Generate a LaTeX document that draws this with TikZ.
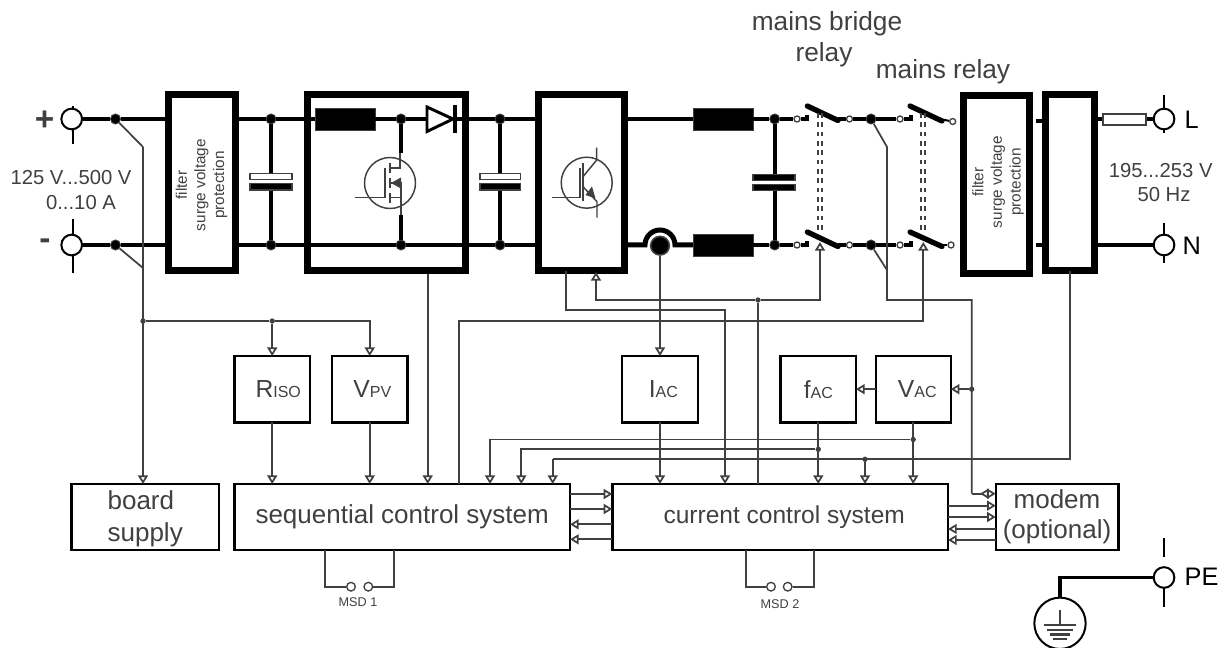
\documentclass[tikz,border=0pt]{standalone}
\usepackage{fontspec}
\setmainfont{Liberation Sans}
\usetikzlibrary{arrows.meta}
\definecolor{sigcol}{HTML}{404040}
\newcommand{\lowtxt}[1]{{\fontsize{12}{12}\selectfont #1}}
\tikzset{
  wire/.style={line width=3pt, black},
  sig/.style={line width=1.3pt, sigcol},
  symb/.style={line width=1.1pt, sigcol},
  tick/.style={line width=1.9pt, black},
  blade/.style={line width=4pt, black, line cap=round},
  gang/.style={line width=1.5pt, sigcol, dash pattern=on 3.5pt off 3.5pt},
  plate/.style={line width=0.9pt, draw=sigcol},
  sized/.style 2 args={minimum width=#1*0.75pt, minimum height=#2*0.75pt},
  fatbox/.style={draw=black, line width=5.25pt, inner sep=0pt, outer sep=0pt},
  ctrlbox/.style={draw=black, line width=1.8pt, inner sep=0pt, outer sep=0pt, text=sigcol, align=center, font=\fontsize{19.5}{24}\selectfont},
  choke/.style={fill=black, draw=sigcol, line width=0.5pt, inner sep=0pt, outer sep=0pt, minimum width=45pt, minimum height=16.5pt},
  term/.style={circle, draw=black, fill=white, line width=1.5pt, inner sep=0pt, minimum size=15.5pt},
  bigdot/.style={circle, fill=black, draw=sigcol, line width=0.7pt, inner sep=0pt, minimum size=7.5pt},
  smalldot/.style={circle, fill=sigcol, inner sep=0pt, minimum size=4pt},
  contact/.style={circle, fill=white, draw=sigcol, line width=1pt, inner sep=0pt, minimum size=4.5pt},
  msdpin/.style={circle, fill=white, draw=sigcol, line width=1pt, inner sep=0pt, minimum size=6.5pt},
  grey/.style={text=sigcol, align=center, font=\fontsize{15.2}{18.5}\selectfont},
  head/.style={text=sigcol, font=\fontsize{19.7}{24}\selectfont},
  fltxt/.style={text=sigcol, align=center, rotate=90, font=\fontsize{11.5}{14}\selectfont},
  big/.style={font=\fontsize{19}{22}\selectfont, text=black},
  >={Triangle[fill=white, length=6.5pt, width=7.5pt]}
}
\begin{document}
\begin{tikzpicture}[x=0.75pt, y=-0.75pt]
  \useasboundingbox (0,0) rectangle (1226,648);
  \def\ytop{119}
  \def\ybot{245}
  % power blocks
  \node[fatbox, sized={67}{176.5}] (flt1) at (201.5,182.3) {};
  \node[fatbox, sized={158}{176.5}] (boost) at (386,182.3) {};
  \node[fatbox, sized={86}{176.5}] (inv) at (581.5,182.3) {};
  \node[fatbox, sized={66.5}{177.5}] (flt2) at (996.7,184.7) {};
  \node[fatbox, sized={49}{176.5}] (grid) at (1070.3,182.3) {};
  \node[fltxt] at (201.5,185) {filter\\surge voltage\\protection};
  \node[fltxt] at (998,182) {filter\\surge voltage\\protection};
  % control blocks
  \node[ctrlbox, sized={147.7}{66}, align=left] (board) at (145.2,517) {\rule{0pt}{17pt}board\\[0pt]supply};
  \node[ctrlbox, sized={335.7}{66}] (seq) at (402.2,517) {sequential control system};
  \node[ctrlbox, sized={335.7}{66}, font=\fontsize{18.4}{24}\selectfont] (cur) at (780.2,517) {\hspace*{6pt}current control system};
  \node[ctrlbox, sized={122.6}{66}, font=\fontsize{19.5}{22.5}\selectfont] (modem) at (1057,517) {modem\\(optional)};
  \node[ctrlbox, sized={75.7}{66.3}, font=\fontsize{18.5}{22}\selectfont] (riso) at (272.2,389.2) {\hspace*{9pt}R\lowtxt{ISO}};
  \node[ctrlbox, sized={75.3}{66.3}, font=\fontsize{18.5}{22}\selectfont] (vpv) at (369.7,389.2) {\hspace*{4pt}V\lowtxt{PV}};
  \node[ctrlbox, sized={76}{66.3}, font=\fontsize{18.5}{22}\selectfont] (iac) at (660,389.2) {\hspace*{5pt}I\lowtxt{AC}};
  \node[ctrlbox, sized={75.3}{66.3}, font=\fontsize{18.5}{22}\selectfont] (fac) at (818.3,389.2) {f\lowtxt{AC}};
  \node[ctrlbox, sized={75}{66.3}, font=\fontsize{18.5}{22}\selectfont] (vac) at (913.2,389.2) {\hspace*{6pt}V\lowtxt{AC}};
  % terminals
  \draw[tick] (73,106) -- (73,144);
  \draw[tick] (73,219) -- (73,273);
  \draw[tick] (1164,95) -- (1164,133);
  \draw[tick] (1164,223) -- (1164,263);
  \draw[tick] (1164,538) -- (1164,557);
  \draw[tick] (1164,587) -- (1164,607);
  \node[term] (plus) at (71.7,\ytop) {};
  \node[term] (minus) at (71.7,\ybot) {};
  \node[term] (lterm) at (1164,\ytop) {};
  \node[term] (nterm) at (1164,\ybot) {};
  \node[term] (peterm) at (1164,577.5) {};
  % junctions on the dc side
  \node[bigdot] (jp1) at (115.5,\ytop) {};
  \node[bigdot] (jn1) at (115.5,\ybot) {};
  \node[bigdot] (jp2) at (271,\ytop) {};
  \node[bigdot] (jn2) at (271,\ybot) {};
  \node[bigdot] (jp3) at (401,\ytop) {};
  \node[bigdot] (jn3) at (401,\ybot) {};
  \node[bigdot] (jp4) at (500,\ytop) {};
  \node[bigdot] (jn4) at (500,\ybot) {};
  % chokes
  \node[choke] (lboost) at (345,\ytop) {};
  \node[choke] (lac1) at (723,\ytop) {};
  \node[choke] (lac2) at (723,\ybot) {};
  % junctions on the ac side
  \node[bigdot] (jp5) at (774.7,\ytop) {};
  \node[bigdot] (jn5) at (774.7,\ybot) {};
  \node[bigdot] (jp6) at (871,\ytop) {};
  \node[bigdot] (jn6) at (871,\ybot) {};
  \node[contact] (ca1) at (797,\ytop) {};
  \node[contact] (ca2) at (797,\ybot) {};
  \node[contact] (cb1) at (849.5,\ytop) {};
  \node[contact] (cb2) at (849.5,\ybot) {};
  \node[contact] (cc1) at (900,\ytop) {};
  \node[contact] (cc2) at (900,\ybot) {};
  \node[contact] (cd1) at (952.7,121.5) {};
  \node[contact] (cd2) at (951,\ybot) {};
  % main wires
  \draw[wire, line width=3.6pt] (plus) -- (jp1) -- (jp1 -| flt1.west);
  \draw[wire] (minus) -- (jn1) -- (jn1 -| flt1.west);
  \draw[wire] (jp2 -| flt1.east) -- (jp2) -- (lboost.west);
  \draw[wire] (jn2 -| flt1.east) -- (jn2) -- (jn3) -- (jn4) -- (jn4 -| inv.west);
  \draw[wire] (lboost.east) -- (jp3) -- (427,\ytop);
  \draw[wire] (455,\ytop) -- (jp4) -- (jp4 -| inv.west);
  \draw[wire] (jp5 -| inv.east) -- (lac1.west);
  \draw[wire] (lac1.east) -- (jp5) -- (ca1);
  \draw[wire] (lac2.east) -- (jn5) -- (ca2);
  \draw[wire] (cb1) -- (jp6) -- (cc1);
  \draw[wire] (cb2) -- (jn6) -- (cc2);
  \draw[wire] (1036,121) -- (1042,121);
  \draw[wire] (1036,\ybot) -- (1042,\ybot);
  \draw[wire] (lterm -| grid.east) -- (lterm);
  \draw[wire] (nterm -| grid.east) -- (nterm);
  % fuse
  \node[fill=white, draw=sigcol, line width=1.2pt, inner sep=0pt, minimum width=32pt, minimum height=8pt] (fuse) at (1124.5,119.5) {};
  % capacitors
  \draw[wire] (jp2) -- (271,173);
  \draw[wire] (271,190) -- (jn2);
  \draw[plate, fill=white] (250,173.5) rectangle (292,179.5);
  \draw[plate, fill=black] (250,183.5) rectangle (292,190);
  \draw[wire] (jp4) -- (500,173);
  \draw[wire] (500,190) -- (jn4);
  \draw[plate, fill=white] (480,173.5) rectangle (520.7,179.5);
  \draw[plate, fill=black] (480,183.5) rectangle (520.7,190);
  \draw[wire] (jp5) -- (774.7,174);
  \draw[wire] (774.7,190) -- (jn5);
  \draw[plate, fill=black] (753,174.5) rectangle (795,180.5);
  \draw[plate, fill=black] (753,184.5) rectangle (795,190.5);
  % diode
  \draw[line width=2.2pt, fill=white, line join=miter] (427,107) -- (427,131.5) -- (453,119) -- cycle;
  \draw[line width=2.4pt] (455,105) -- (455,133);
  % mosfet
  \draw[wire] (jp3) -- (401,153);
  \draw[wire] (401,215) -- (jn3);
  \draw[symb] (390,183) circle (25.5);
  \draw[symb] (355,197.7) -- (385,197.7) -- (385,168);
  \draw[line width=1.5pt, sigcol] (390,163) -- (390,173);
  \draw[line width=1.5pt, sigcol] (390,178) -- (390,188);
  \draw[line width=1.5pt, sigcol] (390,193) -- (390,203);
  \draw[symb] (390,168) -- (400,168) -- (400,153);
  \draw[symb] (390,183) -- (401,183) -- (401,215);
  \draw[symb] (390,197.7) -- (401,197.7);
  \fill[sigcol] (391,183) -- (401,177.5) -- (401,188.5) -- cycle;
  % igbt
  \draw[symb] (586.7,182.7) circle (25.5);
  \draw[symb] (551.7,197.7) -- (580,197.7) -- (580,168);
  \draw[line width=1.6pt, sigcol] (583,163) -- (583,200.7);
  \draw[symb] (583,176.7) -- (596.7,160) -- (596.7,147.7);
  \draw[symb] (583,186.7) -- (597,201.7) -- (597,217.7);
  \fill[sigcol] (595.5,198.5) -- (585.5,195) -- (592,186.5) -- cycle;
  % hall sensor
  \draw[line width=3.75pt] (jn4 -| inv.east) -- (645,\ybot) arc (180:360:15) -- (lac2.west);
  \node[circle, fill=black, draw=sigcol, line width=1.2pt, inner sep=0pt, minimum size=14pt] (hall) at (660,245.7) {};
  % relays
  \draw[wire] (ca1) -- (807,\ytop) -- (807,115);
  \draw[wire] (ca2) -- (807,\ybot) -- (807,241);
  \draw[blade] (807.3,106) -- (838,120.5);
  \draw[blade] (807.3,232) -- (838,246.5);
  \draw[wire] (838,\ytop) -- (cb1);
  \draw[wire] (838,\ybot) -- (cb2);
  \draw[wire] (cc1) -- (911,\ytop) -- (911,115);
  \draw[wire] (cc2) -- (911,\ybot) -- (911,241);
  \draw[blade] (910,106) -- (942,121);
  \draw[blade] (910,232) -- (942,246.5);
  \draw[line width=1.5pt] (942,119.5) -- (cd1);
  \draw[line width=1.5pt] (942,\ybot) -- (cd2);
  \draw[gang] (818,113) -- (818,233);
  \draw[gang] (822,113) -- (822,233);
  \draw[gang] (921.3,113) -- (921.3,233);
  \draw[gang] (925.3,113) -- (925.3,233);
  % signal dots
  \node[smalldot] (dpv) at (143,321) {};
  \node[smalldot] (driso) at (272.2,321) {};
  \node[smalldot] (drel) at (758,300) {};
  \node[smalldot] (dvac) at (971.7,389.2) {};
  \node[smalldot] (dvac2) at (913.2,439.5) {};
  \node[smalldot] (dfac) at (818.3,449.3) {};
  \node[smalldot] (dgrid) at (865,459.3) {};
  % signal bends
  \coordinate (bp1) at (143,147);
  \coordinate (bn1) at (143,268);
  \coordinate (bp2) at (887,147);
  \coordinate (bn2) at (887,270);
  \coordinate (sA) at (427.7,274);
  \coordinate (sB) at (459.3,321);
  \coordinate (sC) at (923.3,321);
  \coordinate (sD) at (566,310);
  \coordinate (sE) at (725,310);
  \coordinate (sF) at (820,300);
  \coordinate (sG) at (596,300);
  \coordinate (sH) at (490,439.5);
  \coordinate (sI) at (521.3,449.3);
  \coordinate (sJ) at (552.7,459.3);
  \coordinate (sK) at (1070,459.3);
  \coordinate (sN) at (887,300);
  \coordinate (sL) at (971.7,300);
  \coordinate (sM) at (971.7,493.7);
  % sensing lines
  \draw[sig] (jp1) -- (bp1);
  \draw[sig] (jn1) -- (bn1);
  \draw[sig,->] (bp1) -- (bp1 |- board.north);
  \draw[sig] (dpv) -- (driso);
  \draw[sig,->] (driso) -| (vpv.north);
  \draw[sig,->] (driso) -- (riso.north);
  \draw[sig,->] (riso.south) -- (riso.south |- seq.north);
  \draw[sig,->] (vpv.south) -- (vpv.south |- seq.north);
  \draw[sig,->] (sA) -- (sA |- seq.north);
  \draw[sig,->] (sB |- seq.north) -- (sB) -- (sC) -- (923.3,242);
  \draw[sig,->] (sD |- inv.south) -- (sD) -- (sE) -- (sE |- cur.north);
  \draw[sig,->] (drel) -- (sF) -- (820,242);
  \draw[sig,->] (drel) -- (sG) -- (596,272);
  \draw[sig] (drel) -- (drel |- cur.north);
  \draw[sig,->] (hall) -- (iac.north);
  \draw[sig,->] (iac.south) -- (iac.south |- cur.north);
  \draw[sig,->] (fac.south) -- (fac.south |- cur.north);
  \draw[sig,->] (vac.south) -- (vac.south |- cur.north);
  \draw[sig,->] (vac.west) -- (fac.east);
  \draw[sig,->] (dvac) -- (vac.east);
  \draw[sig,->] (dvac2) -- (sH) -- (sH |- seq.north);
  \draw[sig,->] (dfac) -- (sI) -- (sI |- seq.north);
  \draw[sig] (sK |- grid.south) -- (sK) -- (sJ);
  \draw[sig,->] (sJ) -- (sJ |- seq.north);
  \draw[sig,->] (dgrid) -- (dgrid |- cur.north);
  \draw[sig] (jp6) -- (bp2) -- (sN) -- (sL) -- (sM);
  \draw[sig] (jn6) -- (bn2);
  \draw[sig,->] (sM) -- (sM -| modem.west);
  \draw[sig,->] (988,493.7) -- (980,493.7);
  % links between the control blocks
  \draw[sig,->] ([yshift=17.25pt]seq.east) -- ([yshift=17.25pt]cur.west);
  \draw[sig,->] ([yshift=6pt]seq.east) -- ([yshift=6pt]cur.west);
  \draw[sig,<-] ([yshift=-5.5pt]seq.east) -- ([yshift=-5.5pt]cur.west);
  \draw[sig,<-] ([yshift=-16.75pt]seq.east) -- ([yshift=-16.75pt]cur.west);
  \draw[sig,->] ([yshift=8.5pt]cur.east) -- ([yshift=8.5pt]modem.west);
  \draw[sig,->] (cur.east) -- (modem.west);
  \draw[sig,<-] ([yshift=-9pt]cur.east) -- ([yshift=-9pt]modem.west);
  \draw[sig,<-] ([yshift=-17.25pt]cur.east) -- ([yshift=-17.25pt]modem.west);
  % memory sockets
  \node[msdpin] (msd1a) at (351,586.7) {};
  \node[msdpin] (msd1b) at (368.3,586.7) {};
  \node[msdpin] (msd2a) at (771,586.7) {};
  \node[msdpin] (msd2b) at (787.7,586.7) {};
  \draw[sig] (325.3,550) |- (msd1a);
  \draw[sig] (394.3,550) |- (msd1b);
  \draw[sig] (745.7,550) |- (msd2a);
  \draw[sig] (814.3,550) |- (msd2b);
  \node[text=sigcol, font=\fontsize{9.5}{11}\selectfont] at (358,602) {MSD 1};
  \node[text=sigcol, font=\fontsize{9.5}{11}\selectfont] at (780,604) {MSD 2};
  % earth
  \node[circle, draw=black, line width=1.5pt, inner sep=0pt, minimum size=38.5pt] (earth) at (1060,623.3) {};
  \draw[line width=2.4pt] (peterm) -| (earth.north);
  \draw[line width=1.7pt, sigcol] (1060,610) -- (1060,625);
  \draw[line width=1.9pt, sigcol] (1044,625) -- (1076,625);
  \draw[line width=1.9pt, sigcol] (1047,630) -- (1073,630);
  \draw[line width=1.9pt, sigcol] (1050,634.5) -- (1070,634.5);
  \draw[line width=1.9pt, sigcol] (1053,639) -- (1067,639);
  % labels
  \node[text=sigcol, font=\bfseries\fontsize{25}{25}\selectfont] at (44.5,120.5) {+};
  \node[text=sigcol, font=\bfseries\fontsize{25}{25}\selectfont] at (45,244) {-};
  \node[grey] at (71,178) {125 V...500 V};
  \node[grey] at (81,203) {0...10 A};
  \node[head] at (827,24) {mains bridge};
  \node[head] at (824,55) {relay};
  \node[head] at (943,72) {mains relay};
  \node[grey] at (1160.7,170.7) {195...253 V};
  \node[grey] at (1164,195) {50 Hz};
  \node[big, anchor=west] at (1180,120) {L};
  \node[big, anchor=west] at (1178,245.5) {N};
  \node[big, anchor=west] at (1180,576.7) {PE};
\end{tikzpicture}
\end{document}
